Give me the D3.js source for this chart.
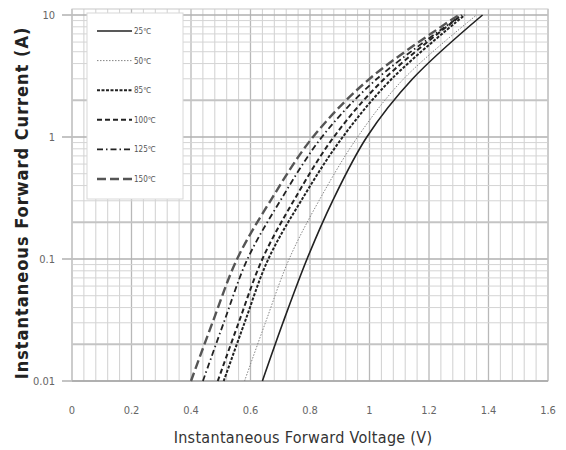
<!DOCTYPE html>
<html>
<head>
<meta charset="utf-8">
<script src="https://cdn.jsdelivr.net/npm/d3@7"></script>
<style>
  body { margin: 0; background: #fff; }
  svg { display: block; font-family: "Liberation Sans Narrow", "DejaVu Sans Condensed", "Liberation Sans", sans-serif; }
</style>
</head>
<body>
<svg id="chart" width="566" height="450"></svg>
<script>
// currents (A) at which voltages were read
const currents = [0.01, 0.03, 0.1, 0.3, 1, 3, 10];
const temps = ["25℃", "50℃", "85℃", "100℃", "125℃", "150℃"];
const v25 = [0.64, 0.709, 0.79, 0.876, 0.991, 1.145, 1.38];
const v50 = [0.58, 0.65, 0.73, 0.83, 0.96, 1.115, 1.36];
const v85 = [0.51, 0.58, 0.66, 0.77, 0.91, 1.075, 1.32];
const v100 = [0.49, 0.56, 0.64, 0.745, 0.88, 1.05, 1.31];
const v125 = [0.44, 0.51, 0.59, 0.70, 0.84, 1.025, 1.31];
const v150 = [0.40, 0.472, 0.555, 0.667, 0.81, 1.00, 1.30];
const xTicks = [0, 0.2, 0.4, 0.6, 0.8, 1, 1.2, 1.4, 1.6];
const yTicks = [0.01, 0.1, 1, 10];

const series = [v25, v50, v85, v100, v125, v150];
const styles = [
  { dash: null, width: 1.6, color: "#222" },
  { dash: "1.5,1.5", width: 0.9, color: "#777" },
  { dash: "3,1.5", width: 2, color: "#222" },
  { dash: "5,3", width: 2, color: "#222" },
  { dash: "6,3,1.5,3", width: 1.8, color: "#222" },
  { dash: "9,4", width: 2.4, color: "#555" }
];

const svg = d3.select("#chart");
const x = d3.scaleLinear().domain([0, 1.6]).range([72, 548]);
const y = d3.scaleLog().domain([0.01, 10]).range([381, 15]);

const grid = svg.append("g");
// vertical grid every 0.04
d3.range(0, 1.6001, 0.04).forEach(v => {
  const major = Math.abs(v / 0.2 - Math.round(v / 0.2)) < 1e-6;
  grid.append("line")
    .attr("x1", x(v)).attr("x2", x(v))
    .attr("y1", 9).attr("y2", y(0.01))
    .attr("stroke", major ? "#b8b8b8" : "#d0d0d0")
    .attr("stroke-width", major ? 1.3 : 1);
});
// horizontal grid, log minor lines
[0.01, 0.1, 1].forEach(dec => {
  d3.range(1, 10).forEach(m => {
    const v = dec * m;
    grid.append("line")
      .attr("x1", m === 1 ? 62 : x(0)).attr("x2", x(1.6))
      .attr("y1", y(v)).attr("y2", y(v))
      .attr("stroke", m === 1 ? "#b0b0b0" : m === 2 ? "#c4c4c4" : "#d4d4d4")
      .attr("stroke-width", m === 1 ? 1.3 : m === 2 ? 2.2 : 1);
  });
});
grid.append("line").attr("x1", 62).attr("x2", x(1.6)).attr("y1", y(10)).attr("y2", y(10))
  .attr("stroke", "#b0b0b0").attr("stroke-width", 1.3);
// frame
grid.append("rect").attr("x", x(0)).attr("y", 9).attr("width", x(1.6) - x(0)).attr("height", y(0.01) - 9)
  .attr("fill", "none").attr("stroke", "#c8c8c8");
grid.append("line").attr("x1", x(0)).attr("x2", x(1.6)).attr("y1", y(0.01)).attr("y2", y(0.01))
  .attr("stroke", "#999").attr("stroke-width", 1.2);

// axis labels
svg.append("g").selectAll("text").data(xTicks).join("text")
  .attr("x", d => x(d)).attr("y", 414)
  .attr("text-anchor", "middle").attr("font-size", 11).attr("fill", "#666")
  .text(d => d);
svg.append("g").selectAll("text").data(yTicks).join("text")
  .attr("x", 55).attr("y", d => y(d) + 4)
  .attr("text-anchor", "end").attr("font-size", 11).attr("fill", "#666")
  .text(d => d);

svg.append("text").attr("x", 303).attr("y", 443).attr("text-anchor", "middle")
  .attr("font-size", 16).attr("letter-spacing", 0.3).attr("fill", "#333")
  .text("Instantaneous Forward Voltage (V)");
svg.append("text").attr("transform", "translate(28,203) rotate(-90)").attr("text-anchor", "middle")
  .attr("font-size", 18).attr("letter-spacing", 1).attr("fill", "#222").attr("font-weight", "bold")
  .text("Instantaneous Forward Current (A)");

// curves
const line = d3.line().curve(d3.curveCatmullRom.alpha(0.5))
  .x(d => x(d[0])).y(d => y(d[1]));
series.forEach((vals, i) => {
  svg.append("path")
    .datum(vals.map((v, j) => [v, currents[j]]))
    .attr("d", line)
    .attr("fill", "none")
    .attr("stroke", styles[i].color)
    .attr("stroke-width", styles[i].width)
    .attr("stroke-dasharray", styles[i].dash);
});

// legend
const legend = svg.append("g");
legend.append("rect").attr("x", 87).attr("y", 13).attr("width", 96).attr("height", 186)
  .attr("fill", "#fff").attr("stroke", "#d8d8d8");
temps.forEach((t, i) => {
  const ly = 31 + i * 29.6;
  legend.append("line").attr("x1", 97).attr("x2", 132).attr("y1", ly).attr("y2", ly)
    .attr("stroke", styles[i].color).attr("stroke-width", styles[i].width)
    .attr("stroke-dasharray", styles[i].dash);
  legend.append("text").attr("x", 134).attr("y", ly + 3)
    .attr("font-size", 8).attr("fill", "#555").text(t);
});
</script>
</body>
</html>
